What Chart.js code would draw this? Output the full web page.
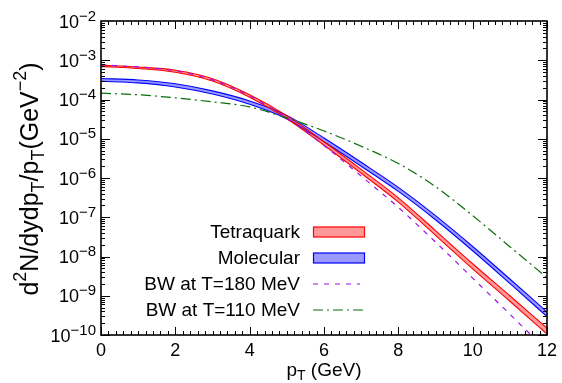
<!DOCTYPE html>
<html>
<head>
<meta charset="utf-8">
<script src="https://cdn.jsdelivr.net/npm/chart.js@4.4.1/dist/chart.umd.min.js"></script>
<style>
  html, body { margin: 0; padding: 0; background: #fff; }
  #wrap { width: 562px; height: 383px; }
</style>
</head>
<body>
<div id="wrap"><canvas id="grafico" width="562" height="383"></canvas></div>
<script>
// p_T grid (GeV)
const pt = [0, 1, 2, 3, 4, 5, 6, 7, 8, 9, 10, 11, 12];

// bandas (limite superior / inferior)
const tetraHigh = [7.50e-4, 6.76e-4, 5.56e-4, 3.39e-4, 1.33e-4, 3.89e-5, 8.41e-6, 1.66e-6, 3.13e-7, 4.57e-8, 6.53e-9, 1.00e-9, 1.50e-10];
const tetraLow  = [7.00e-4, 6.17e-4, 4.95e-4, 2.95e-4, 1.14e-4, 3.24e-5, 6.84e-6, 1.32e-6, 2.43e-7, 3.47e-8, 4.84e-9, 7.24e-10, 1.06e-10];
const molHigh   = [3.43e-4, 3.14e-4, 2.51e-4, 1.66e-4, 9.18e-5, 3.94e-5, 1.04e-5, 2.51e-6, 5.77e-7, 1.10e-7, 1.80e-8, 2.67e-9, 3.88e-10];
const molLow    = [2.92e-4, 2.65e-4, 2.09e-4, 1.38e-4, 7.53e-5, 3.20e-5, 8.38e-6, 2.00e-6, 4.56e-7, 8.65e-8, 1.40e-8, 2.06e-9, 2.96e-10];

// blast-wave
const bw180 = [7.59e-4, 6.76e-4, 5.37e-4, 3.16e-4, 1.23e-4, 3.39e-5, 6.76e-6, 1.12e-6, 1.78e-7, 2.34e-8, 2.82e-9, 3.39e-10, 3.98e-11];
const bw110 = [1.45e-4, 1.32e-4, 1.10e-4, 8.71e-5, 6.46e-5, 3.39e-5, 1.58e-5, 6.46e-6, 2.34e-6, 6.03e-7, 1.10e-7, 1.78e-8, 2.88e-9];

// eixos
const xTickLabels = [0, 2, 4, 6, 8, 10, 12];
const yTickExps = [-2, -3, -4, -5, -6, -7, -8, -9, -10];
const legendLabels = ['Tetraquark', 'Molecular', 'BW at T=180 MeV', 'BW at T=110 MeV'];

const FONT = '"Liberation Sans", Arial, Helvetica, sans-serif';
const pts = arr => pt.map((x, i) => ({ x, y: arr[i] }));

function linha(data, color, extra = {}) {
    return Object.assign({
        data: pts(data), borderColor: color, borderWidth: 1.1, pointRadius: 0,
        fill: false, cubicInterpolationMode: 'monotone'
    }, extra);
}

// texto com expoente/indice: partes = [[texto, 'n'|'sup'|'sub'], ...]
function larguraPartes(ctx, partes, size, small) {
    let w = 0;
    partes.forEach(([t, k]) => {
        ctx.font = (k === 'n' ? size : small) + 'px ' + FONT;
        w += ctx.measureText(t).width;
    });
    return w;
}
function desenhaPartes(ctx, partes, x, y, size, small, up, down) {
    let cx = x;
    partes.forEach(([t, k]) => {
        ctx.font = (k === 'n' ? size : small) + 'px ' + FONT;
        const dy = k === 'sup' ? -up : (k === 'sub' ? down : 0);
        ctx.fillText(t, cx, y + dy);
        cx += ctx.measureText(t).width;
    });
}

const moldura = {
    id: 'moldura',
    afterDraw(chart) {
        const { ctx, chartArea: a, scales: { x, y } } = chart;
        ctx.save();
        ctx.fillStyle = '#000';
        ctx.strokeStyle = '#000';

        // ticks x (baixo e topo)
        ctx.lineWidth = 1;
        ctx.beginPath();
        for (let i = 0; i <= 60; i++) {
            const px = Math.round(x.getPixelForValue(i * 0.2)) + 0.5;
            const len = i % 10 === 0 ? 8 : 4;
            ctx.moveTo(px, a.bottom); ctx.lineTo(px, a.bottom - len);
            ctx.moveTo(px, a.top); ctx.lineTo(px, a.top + len);
        }
        // ticks y (log)
        for (let e = -10; e < -2; e++) {
            for (let m = 1; m <= 9; m++) {
                const py = Math.round(y.getPixelForValue(m * Math.pow(10, e))) + 0.5;
                const len = m === 1 ? 9 : 4;
                ctx.moveTo(a.left, py); ctx.lineTo(a.left + len, py);
                ctx.moveTo(a.right, py); ctx.lineTo(a.right - len, py);
            }
        }
        ctx.stroke();

        ctx.lineWidth = 1.6;
        ctx.strokeRect(a.left, a.top, a.right - a.left, a.bottom - a.top);

        // rotulos x
        ctx.textBaseline = 'alphabetic';
        ctx.textAlign = 'center';
        ctx.font = '18px ' + FONT;
        xTickLabels.forEach(v => ctx.fillText(String(v), x.getPixelForValue(v), 356));

        // rotulos y 10^n
        ctx.textAlign = 'left';
        yTickExps.forEach(e => {
            const py = y.getPixelForValue(Math.pow(10, e));
            const partes = [['10', 'n'], ['\u2212' + Math.abs(e), 'sup']];
            const w = larguraPartes(ctx, partes, 18, 15);
            desenhaPartes(ctx, partes, 96 - w, py + 6.5, 18, 15, 7, 0);
        });

        // titulo x
        const tx = [['p', 'n'], ['T', 'sub'], [' (GeV)', 'n']];
        const wx = larguraPartes(ctx, tx, 19, 14);
        desenhaPartes(ctx, tx, (a.left + a.right) / 2 - wx / 2, 376, 19, 14, 0, 4);

        // titulo y
        const ty = [['d', 'n'], ['2', 'sup'], ['N/dydp', 'n'], ['T', 'sub'], ['/p', 'n'], ['T', 'sub'], ['(GeV', 'n'], ['\u2212' + '2', 'sup'], [')', 'n']];
        ctx.save();
        ctx.translate(38, 179);
        ctx.rotate(-Math.PI / 2);
        const wy = larguraPartes(ctx, ty, 25, 18);
        desenhaPartes(ctx, ty, -wy / 2, 0, 25, 18, 12, 6);
        ctx.restore();

        // legenda
        const rows = [232, 258, 284, 310];
        ctx.textAlign = 'right';
        ctx.textBaseline = 'middle';
        ctx.font = '19px ' + FONT;
        legendLabels.forEach((t, i) => ctx.fillText(t, 300, rows[i] + 1));

        ctx.lineWidth = 1.2;
        ctx.fillStyle = 'rgba(255,0,0,0.4)';
        ctx.strokeStyle = '#ff0000';
        ctx.fillRect(313.5, rows[0] - 5, 51, 10);
        ctx.strokeRect(313.5, rows[0] - 5, 51, 10);
        ctx.fillStyle = 'rgba(0,0,255,0.4)';
        ctx.strokeStyle = '#0000ff';
        ctx.fillRect(313.5, rows[1] - 5, 51, 10);
        ctx.strokeRect(313.5, rows[1] - 5, 51, 10);

        ctx.strokeStyle = '#9a10e8';
        ctx.setLineDash([5, 6]);
        ctx.beginPath(); ctx.moveTo(313, rows[2]); ctx.lineTo(360, rows[2]); ctx.stroke();
        ctx.strokeStyle = '#0a6e0a';
        ctx.setLineDash([10, 4, 2, 4]);
        ctx.beginPath(); ctx.moveTo(313, rows[3]); ctx.lineTo(364, rows[3]); ctx.stroke();
        ctx.restore();
    }
};

new Chart(document.getElementById('grafico'), {
    type: 'line',
    data: {
        datasets: [
            linha(bw180, '#9a10e8', { borderDash: [5, 6], borderWidth: 1.2 }),
            linha(bw110, '#0a6e0a', { borderDash: [10, 4, 2, 4], borderWidth: 1.2 }),
            linha(tetraHigh, '#ff0000'),
            linha(tetraLow, '#ff0000', { fill: '-1', backgroundColor: 'rgba(255,0,0,0.4)' }),
            linha(molHigh, '#0000ff'),
            linha(molLow, '#0000ff', { fill: '-1', backgroundColor: 'rgba(0,0,255,0.4)' })
        ]
    },
    options: {
        responsive: false, animation: false, devicePixelRatio: 1,
        layout: { padding: { left: 101, right: 15, top: 21, bottom: 48 } },
        plugins: { legend: { display: false }, tooltip: { enabled: false } },
        scales: {
            x: { type: 'linear', min: 0, max: 12, display: false },
            y: { type: 'logarithmic', min: 1e-10, max: 1e-2, display: false }
        }
    },
    plugins: [moldura]
});
</script>
</body>
</html>
